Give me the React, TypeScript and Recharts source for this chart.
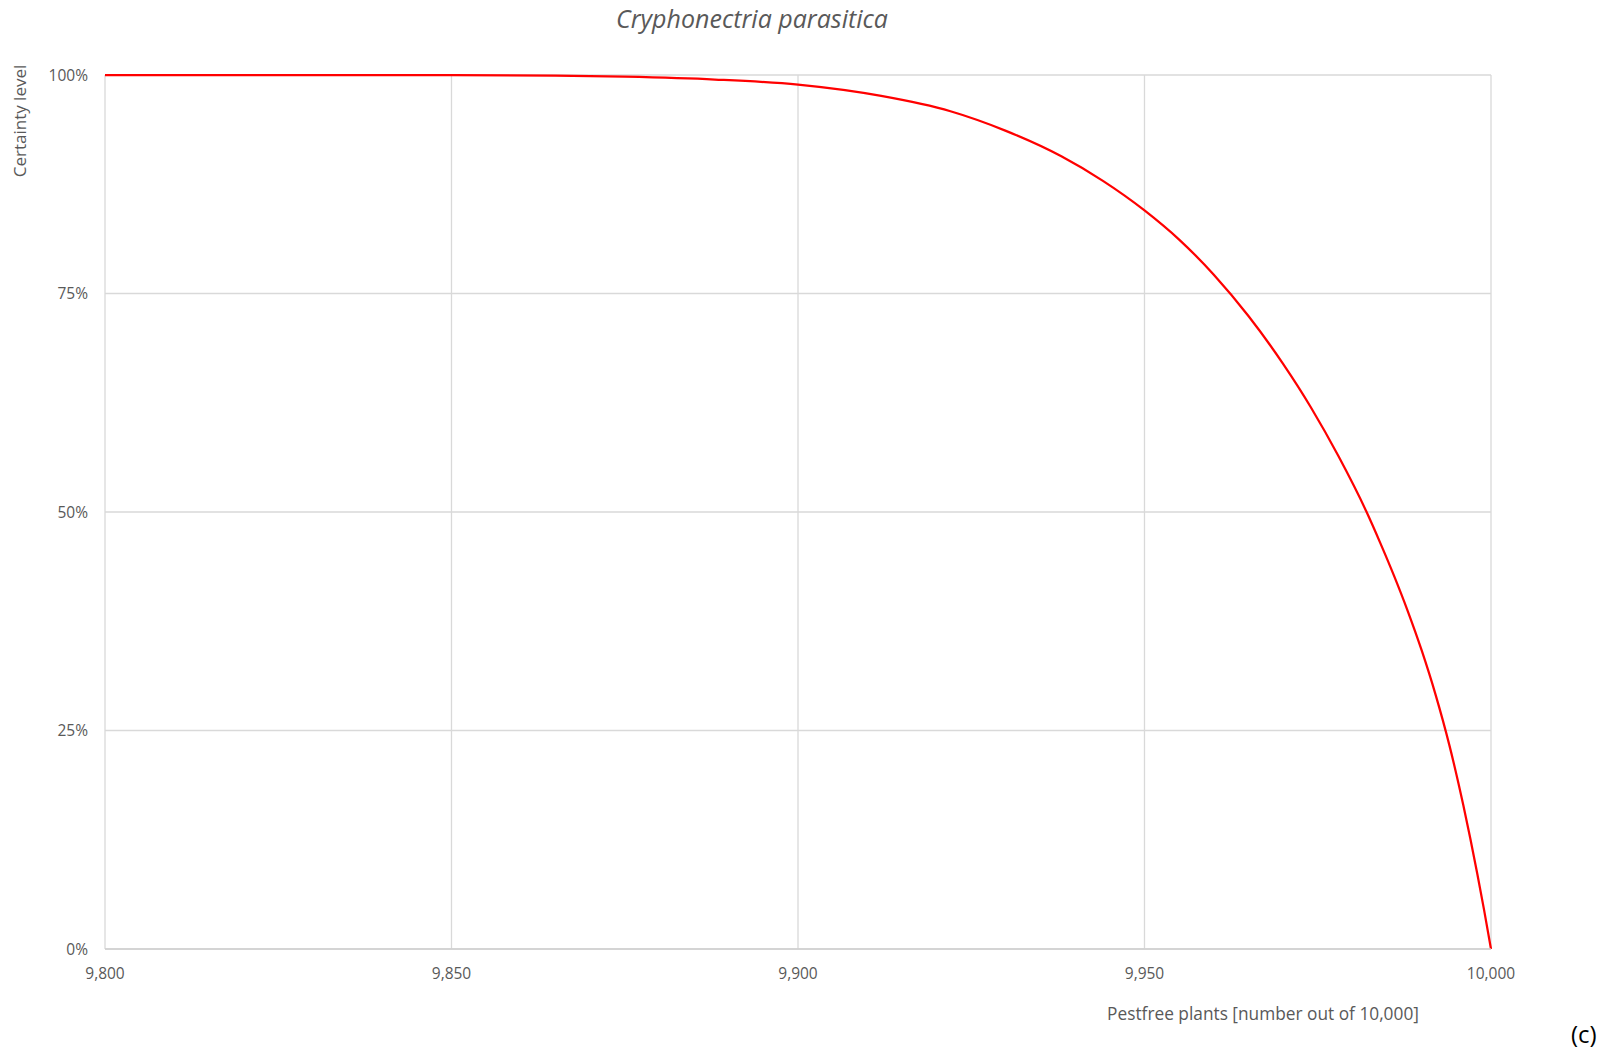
import { LineChart, Line, XAxis, YAxis, CartesianGrid } from "recharts";

// pest-free plants (x) and certainty level (y, fraction)
const pestfree = [
  9800, 9850, 9865, 9875, 9888, 9900, 9912, 9922, 9930, 9938, 9944, 9950,
  9955, 9960, 9965, 9970, 9974, 9978, 9982, 9984, 9986, 9988, 9990, 9992,
  9994, 9996, 9997, 9998, 9999, 10000,
];
const certainty = [
  1, 0.9999, 0.9993, 0.998, 0.9948, 0.9889, 0.976, 0.9585, 0.9361, 0.907, 0.8789, 0.8451,
  0.8117, 0.7715, 0.7242, 0.6695, 0.6199, 0.5637, 0.5008, 0.465, 0.4272, 0.3864, 0.3416, 0.2911,
  0.233, 0.1647, 0.1271, 0.087, 0.0448, 0,
];

const xTicks = [9800, 9850, 9900, 9950, 10000];
const yTicks = [0, 0.25, 0.5, 0.75, 1];

const title = "Cryphonectria parasitica";
const yTitle = "Certainty level";
const xTitle = "Pestfree plants [number out of 10,000]";
const panelTag = "(c)";

const data = pestfree.map((x, i) => ({ x, y: certainty[i] }));

const FONT = "'Open Sans', sans-serif";
const TEXT = "#595959";
const GRID = "#d9d9d9";

const fmtNum = (v: number) => v.toLocaleString("en-US");
const fmtPct = (v: number) => `${Math.round(v * 100)}%`;

export default function App() {
  return (
    <div style={{ position: "absolute", left: 0, top: 0, width: 1610, height: 1051, background: "#fff" }}>
      <LineChart
        width={1610}
        height={1051}
        data={data}
        margin={{ top: 75, right: 119, bottom: 72, left: 25 }}
      >
        <CartesianGrid stroke={GRID} strokeWidth={1.3} />
        <XAxis
          type="number"
          dataKey="x"
          domain={[9800, 10000]}
          ticks={xTicks}
          interval={0}
          height={30}
          tickFormatter={fmtNum}
          tickLine={false}
          tickMargin={13}
          axisLine={{ stroke: "#cfcfcf", strokeWidth: 1.3 }}
          tick={{ fontSize: 15.5, fill: TEXT, fontFamily: FONT }}
        />
        <YAxis
          type="number"
          domain={[0, 1]}
          ticks={yTicks}
          interval={0}
          width={80}
          tickFormatter={fmtPct}
          tickLine={false}
          tickMargin={11}
          axisLine={false}
          tick={{ fontSize: 15.5, fill: TEXT, fontFamily: FONT }}
        />
        <Line
          type="monotone"
          dataKey="y"
          stroke="#ff0000"
          strokeWidth={2.25}
          dot={false}
          activeDot={false}
          isAnimationActive={false}
        />
      </LineChart>

      {/* titles and labels laid over the chart */}
      <svg
        width={1610}
        height={1051}
        style={{ position: "absolute", left: 0, top: 0, pointerEvents: "none" }}
      >
        <text x={752} y={28} textAnchor="middle" fontFamily={FONT} fontStyle="italic" fontSize={25} fill={TEXT}>
          {title}
        </text>
        <text
          transform="translate(26,121) rotate(-90)"
          textAnchor="middle"
          fontFamily={FONT}
          fontSize={17}
          fill={TEXT}
        >
          {yTitle}
        </text>
        <text x={1263} y={1020} textAnchor="middle" fontFamily={FONT} fontSize={17.3} fill={TEXT}>
          {xTitle}
        </text>
        <text x={1571} y={1043} fontFamily={FONT} fontSize={24} fill="#000">
          {panelTag}
        </text>
      </svg>
    </div>
  );
}
